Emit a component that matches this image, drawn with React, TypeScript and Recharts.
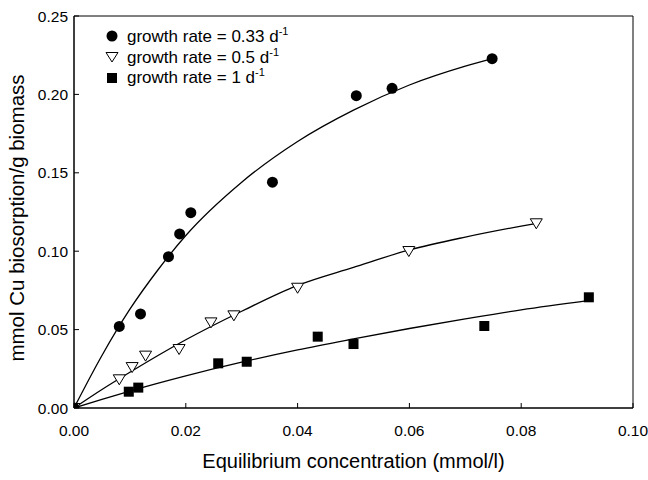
import { ComposedChart, Scatter, Line, XAxis, YAxis, Legend, Label, ReferenceArea } from 'recharts'

const circleX = [0, 0.0081, 0.0119, 0.0169, 0.0189, 0.0209, 0.0355, 0.0505, 0.0569, 0.0748]
const circleY = [0, 0.052, 0.060, 0.0965, 0.111, 0.1246, 0.144, 0.1992, 0.2039, 0.2228]

const triX = [0, 0.0081, 0.0104, 0.0128, 0.0188, 0.0245, 0.0286, 0.04, 0.0599, 0.0827]
const triY = [0, 0.0183, 0.0261, 0.0334, 0.0376, 0.0546, 0.0591, 0.0767, 0.1001, 0.1178]

const squareX = [0, 0.0098, 0.0115, 0.0258, 0.0309, 0.0436, 0.05, 0.0734, 0.0921]
const squareY = [0, 0.0104, 0.013, 0.0285, 0.0295, 0.0455, 0.0408, 0.0523, 0.0706]

// fitted curves
const circleFitX = [0, 0.005, 0.01, 0.015, 0.02, 0.03, 0.04, 0.05, 0.06, 0.07, 0.075]
const circleFitY = [0, 0.0335, 0.063, 0.088, 0.11, 0.144, 0.17, 0.19, 0.206, 0.218, 0.223]

const triFitX = [0, 0.005, 0.01, 0.02, 0.03, 0.04, 0.05, 0.06, 0.07, 0.08, 0.0828]
const triFitY = [0, 0.0118, 0.0228, 0.0435, 0.0617, 0.0782, 0.0897, 0.1008, 0.109, 0.116, 0.1178]

const squareFitX = [0, 0.005, 0.01, 0.02, 0.03, 0.04, 0.05, 0.06, 0.07, 0.08, 0.092]
const squareFitY = [0, 0.0055, 0.0108, 0.0205, 0.0292, 0.037, 0.044, 0.0507, 0.0568, 0.0626, 0.0685]

const xTicks = [0, 0.02, 0.04, 0.06, 0.08, 0.1]
const yTicks = [0, 0.05, 0.1, 0.15, 0.2, 0.25]

const seriesNames = ['growth rate = 0.33 d', 'growth rate = 0.5 d', 'growth rate = 1 d']
const seriesExp = '-1'

const zip = (xs: number[], ys: number[]) => xs.map((x, i) => ({ x, y: ys[i] }))

const circles = zip(circleX, circleY)
const triangles = zip(triX, triY)
const squares = zip(squareX, squareY)
const circleFit = zip(circleFitX, circleFitY)
const triFit = zip(triFitX, triFitY)
const squareFit = zip(squareFitX, squareFitY)

const FONT = '"Liberation Sans", Arial, Helvetica, sans-serif'

const CircleDot = (p: any) => <circle cx={p.cx} cy={p.cy} r={5.5} fill="#000" />
const SquareDot = (p: any) => <rect x={p.cx - 5} y={p.cy - 5} width={10} height={10} fill="#000" />
const TriDot = (p: any) => (
  <polygon
    points={`${p.cx - 6},${p.cy - 4.5} ${p.cx + 6},${p.cy - 4.5} ${p.cx},${p.cy + 5.5}`}
    fill="#fff"
    stroke="#000"
    strokeWidth={1}
  />
)

function LegendBox() {
  const marks = [
    <circle cx={10} cy={10} r={5.5} fill="#000" />,
    <polygon points="4,26.5 16,26.5 10,36" fill="#fff" stroke="#000" />,
    <rect x={5} y={47} width={10} height={10} fill="#000" />,
  ]
  return (
    <svg width={240} height={70} style={{ display: 'block' }}>
      {seriesNames.map((name, i) => (
        <g key={name}>
          {marks[i]}
          <text x={25} y={16 + i * 20.5} fontSize={17} fontFamily={FONT} fill="#000">
            {name}
            <tspan dy={-7} fontSize={11}>{seriesExp}</tspan>
          </text>
        </g>
      ))}
    </svg>
  )
}

const XTitle = (p: any) => {
  const vb = p.viewBox
  return (
    <text x={vb.x + vb.width / 2} y={468} textAnchor="middle" fontSize={20} fontFamily={FONT} fill="#000">
      Equilibrium concentration (mmol/l)
    </text>
  )
}

const YTitle = (p: any) => {
  const vb = p.viewBox
  const cy = vb.y + vb.height / 2 + 6
  return (
    <text
      x={24}
      y={cy}
      transform={`rotate(-90, 24, ${cy})`}
      textAnchor="middle"
      fontSize={20.5}
      fontFamily={FONT}
      fill="#000"
    >
      mmol Cu biosorption/g biomass
    </text>
  )
}

const tickStyle = { fontSize: 15.5, fontFamily: FONT, fill: '#000' }

export default function App() {
  return (
    <div style={{ width: 648, height: 480, background: '#fff' }}>
      <style>{'body { margin: 0; }'}</style>
      <ComposedChart width={648} height={480} margin={{ top: 16, right: 15, bottom: 0, left: 0 }}>
        <XAxis
          dataKey="x"
          type="number"
          domain={[0, 0.1]}
          ticks={xTicks}
          tickFormatter={(v: number) => v.toFixed(2)}
          height={72}
          tickSize={-5}
          tickMargin={22}
          tick={tickStyle}
          axisLine={{ stroke: '#000' }}
          tickLine={{ stroke: '#000' }}
          allowDataOverflow
        >
          <Label content={XTitle} />
        </XAxis>
        <YAxis
          dataKey="y"
          type="number"
          domain={[0, 0.25]}
          ticks={yTicks}
          tickFormatter={(v: number) => v.toFixed(2)}
          width={74}
          tickSize={-5}
          tickMargin={11}
          tick={tickStyle}
          axisLine={{ stroke: '#000' }}
          tickLine={{ stroke: '#000' }}
          allowDataOverflow
        >
          <Label content={YTitle} />
        </YAxis>

        {/* frame round the plot area */}
        <ReferenceArea
          x1={xTicks[0]}
          x2={xTicks[xTicks.length - 1]}
          y1={yTicks[0]}
          y2={yTicks[yTicks.length - 1]}
          fill="none"
          fillOpacity={0}
          stroke="#000"
          strokeWidth={1}
        />

        <Line data={circleFit} dataKey="y" type="monotone" stroke="#000" strokeWidth={1.3} dot={false} isAnimationActive={false} />
        <Line data={triFit} dataKey="y" type="monotone" stroke="#000" strokeWidth={1.3} dot={false} isAnimationActive={false} />
        <Line data={squareFit} dataKey="y" type="monotone" stroke="#000" strokeWidth={1.3} dot={false} isAnimationActive={false} />

        <Scatter data={squares} shape={SquareDot} isAnimationActive={false} />
        <Scatter data={triangles} shape={TriDot} isAnimationActive={false} />
        <Scatter data={circles} shape={CircleDot} isAnimationActive={false} />

        <Legend
          layout="vertical"
          align="center"
          verticalAlign="middle"
          wrapperStyle={{ top: 26, left: 102, width: 240 }}
          content={() => <LegendBox />}
        />
      </ComposedChart>
    </div>
  )
}
